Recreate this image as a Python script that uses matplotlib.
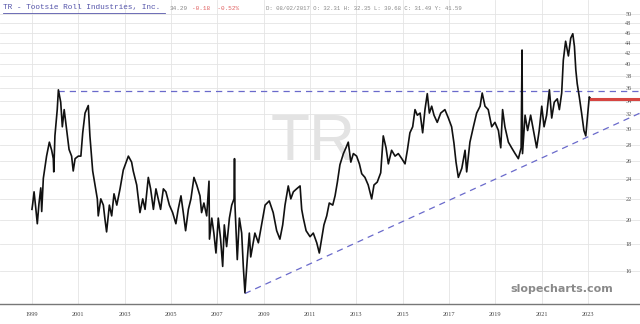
import matplotlib
matplotlib.use("Agg")
from matplotlib import pyplot as plt
from matplotlib.lines import Line2D

# TR daily close (decimal year, price)
years = [
    1999.00, 1999.03, 1999.09, 1999.16, 1999.23, 1999.30, 1999.38, 1999.42, 1999.49, 1999.63,
    1999.75, 1999.85, 1999.92, 1999.94, 1999.99, 2000.09, 2000.14, 2000.24, 2000.31, 2000.39,
    2000.50, 2000.60, 2000.71, 2000.78, 2000.86, 2001.00, 2001.11, 2001.19, 2001.29, 2001.43,
    2001.50, 2001.62, 2001.72, 2001.82, 2001.86, 2001.97, 2002.08, 2002.15, 2002.22, 2002.34,
    2002.44, 2002.54, 2002.66, 2002.80, 2002.94, 2003.16, 2003.30, 2003.37, 2003.52, 2003.66,
    2003.78, 2003.88, 2004.02, 2004.12, 2004.24, 2004.35, 2004.45, 2004.55, 2004.67, 2004.78,
    2004.93, 2005.07, 2005.21, 2005.31, 2005.43, 2005.53, 2005.63, 2005.75, 2005.86, 2005.99,
    2006.11, 2006.25, 2006.32, 2006.42, 2006.54, 2006.64, 2006.66, 2006.76, 2006.85, 2006.94,
    2007.04, 2007.14, 2007.23, 2007.30, 2007.40, 2007.52, 2007.62, 2007.72, 2007.74, 2007.76,
    2007.86, 2007.95, 2008.05, 2008.12, 2008.19, 2008.29, 2008.38, 2008.44, 2008.62, 2008.77,
    2008.91, 2009.06, 2009.24, 2009.41, 2009.56, 2009.70, 2009.82, 2009.92, 2010.06, 2010.17,
    2010.28, 2010.42, 2010.57, 2010.64, 2010.71, 2010.83, 2011.00, 2011.14, 2011.29, 2011.40,
    2011.50, 2011.60, 2011.72, 2011.83, 2011.98, 2012.08, 2012.18, 2012.29, 2012.44, 2012.55,
    2012.65, 2012.76, 2012.87, 2013.01, 2013.13, 2013.23, 2013.37, 2013.51, 2013.66, 2013.76,
    2013.90, 2014.05, 2014.16, 2014.28, 2014.38, 2014.52, 2014.67, 2014.81, 2014.96, 2015.10,
    2015.20, 2015.31, 2015.43, 2015.53, 2015.63, 2015.75, 2015.86, 2015.96, 2016.06, 2016.15,
    2016.25, 2016.35, 2016.49, 2016.64, 2016.82, 2016.97, 2017.11, 2017.21, 2017.30, 2017.40,
    2017.55, 2017.69, 2017.76, 2017.90, 2018.05, 2018.19, 2018.34, 2018.43, 2018.55, 2018.69,
    2018.84, 2018.98, 2019.13, 2019.23, 2019.31, 2019.41, 2019.56, 2019.70, 2019.85, 2019.99,
    2020.11, 2020.15, 2020.17, 2020.28, 2020.39, 2020.52, 2020.64, 2020.78, 2020.89, 2021.00,
    2021.10, 2021.21, 2021.33, 2021.43, 2021.54, 2021.67, 2021.76, 2021.86, 2021.93, 2022.03,
    2022.15, 2022.25, 2022.34, 2022.41, 2022.47, 2022.53, 2022.62, 2022.72, 2022.82, 2022.90,
    2022.97, 2023.05, 2023.11,
]
prices = [
    21.0, 21.5, 22.7, 21.2, 19.7, 21.5, 23.1, 20.8, 24.1, 26.6,
    28.3, 27.3, 26.3, 24.8, 29.1, 32.7, 35.7, 33.8, 30.3, 32.7,
    29.8, 27.4, 26.6, 24.9, 26.3, 26.6, 26.6, 29.5, 32.2, 33.3,
    29.1, 24.9, 23.4, 22.0, 20.4, 22.0, 21.4, 20.1, 19.0, 21.4,
    20.4, 22.5, 21.4, 23.0, 25.0, 26.6, 25.9, 24.9, 23.4, 20.7,
    22.0, 21.0, 24.2, 23.0, 21.0, 23.0, 22.0, 21.0, 23.0, 22.7,
    21.4, 20.7, 19.7, 21.0, 22.3, 20.7, 19.1, 21.0, 22.0, 24.2,
    23.4, 22.3, 20.7, 21.6, 20.4, 23.8, 18.4, 20.2, 18.9, 17.3,
    20.2, 18.4, 16.3, 19.6, 17.8, 20.2, 21.4, 22.0, 26.3, 21.4,
    16.8, 20.2, 18.9, 16.3, 14.5, 16.8, 18.9, 17.0, 18.9, 18.1,
    19.6, 21.4, 21.8, 20.7, 19.1, 18.4, 19.6, 21.4, 23.3, 22.0,
    22.7, 23.0, 23.3, 21.0, 20.2, 19.1, 18.6, 18.9, 18.1, 17.3,
    18.4, 19.6, 20.4, 21.6, 21.4, 22.3, 23.7, 25.6, 26.9, 27.6,
    28.3, 25.9, 26.9, 26.6, 25.7, 24.6, 24.2, 23.4, 22.0, 23.4,
    23.7, 24.7, 29.1, 27.6, 25.7, 27.3, 26.6, 26.9, 26.3, 25.7,
    27.3, 29.5, 30.3, 32.7, 31.9, 32.2, 29.5, 32.7, 35.1, 32.2,
    33.2, 31.9, 30.9, 32.2, 32.7, 31.5, 30.3, 28.2, 25.9, 24.2,
    25.2, 27.3, 24.8, 28.3, 30.3, 32.2, 33.2, 35.2, 33.2, 32.7,
    30.3, 30.9, 29.8, 27.6, 32.7, 30.3, 28.3, 27.6, 26.9, 26.3,
    27.6, 42.6, 26.9, 31.9, 29.8, 31.9, 29.8, 27.6, 29.8, 33.2,
    30.3, 31.9, 35.7, 31.5, 33.8, 34.3, 32.7, 35.2, 40.7, 44.3,
    41.5, 44.9, 45.8, 43.3, 39.0, 36.7, 34.6, 32.2, 29.8, 29.1,
    31.5, 34.6, 34.3,
]

# drawn lines
resistance = 35.5
resistance_start = 2000.14
trend_start = (2008.19, 14.45)
trend_end = (2025.24, 32.2)
last_price = 34.29

price_ticks = list(range(16, 52, 2))
year_ticks = list(range(1999, 2025, 2))

fig = plt.figure(figsize=(6.4, 3.24), dpi=100)
ax = fig.add_axes([0, 0.062, 1, 0.938])

ax.set_yscale("log")
ax.set_xlim(1997.62, 2025.24)
ax.set_ylim(13.8, 53.2)

ax.plot(years, prices, color="#111111", lw=1.2, zorder=3)

dash = "#6a6acb"
ax.plot([resistance_start, 2025.24], [resistance, resistance], color=dash,
        lw=0.9, dashes=(5, 4), zorder=2)
ax.plot([trend_start[0], trend_end[0]], [trend_start[1], trend_end[1]], color=dash,
        lw=0.9, dashes=(5, 4), zorder=2)
ax.plot([years[-1], 2025.24], [last_price, last_price], color="#d64541", lw=2.2, zorder=4)

ax.set_yticks(price_ticks)
ax.set_yticklabels([str(p) for p in price_ticks])
ax.yaxis.set_minor_locator(plt.NullLocator())
ax.tick_params(axis="y", left=False, labelleft=False, right=False, labelright=True,
               pad=-14, labelsize=4.5, labelcolor="#555555")
for lbl in ax.get_yticklabels():
    lbl.set_fontfamily("Liberation Serif")

ax.set_xticks(year_ticks)
ax.set_xticklabels([str(y) for y in year_ticks])
ax.tick_params(axis="x", length=0, pad=6, labelsize=4.5, labelcolor="#444444")
for lbl in ax.get_xticklabels():
    lbl.set_fontfamily("Liberation Serif")

ax.grid(True, color="#e4e4e4", lw=0.6)
ax.set_axisbelow(True)
for side in ["top", "left", "right"]:
    ax.spines[side].set_visible(False)
ax.spines["bottom"].set_color("#777777")
ax.spines["bottom"].set_linewidth(1.0)

# watermarks
ax.text(0.49, 0.53, "TR", transform=ax.transAxes, fontsize=46, color="#e3e3e3",
        ha="center", va="center", family="Liberation Sans", zorder=1)
ax.text(0.878, 0.05, "slopecharts.com", transform=ax.transAxes, fontsize=8,
        color="#8a8a8a", weight="bold", ha="center", va="center", zorder=5)

# header line
mono = "Liberation Mono"
y_head = 1 - 8 / 324
fig.text(3 / 640, y_head, "TR - Tootsie Roll Industries, Inc.", family=mono,
         fontsize=5.6, color="#5555aa", va="center")
fig.add_artist(Line2D([3 / 640, 165 / 640], [1 - 13 / 324] * 2, color="#5555aa", lw=0.6))
fig.text(170 / 640, y_head, "34.29", family=mono, fontsize=4.3, color="#888888", va="center")
fig.text(192 / 640, y_head, "-0.18  -0.52%", family=mono, fontsize=4.3, color="#e06060", va="center")
fig.text(266 / 640, y_head, "D: 08/02/2017 O: 32.31 H: 32.35 L: 30.68 C: 31.49 Y: 41.59",
         family=mono, fontsize=4.1, color="#888888", va="center")

fig.savefig("out.png", dpi=100)
